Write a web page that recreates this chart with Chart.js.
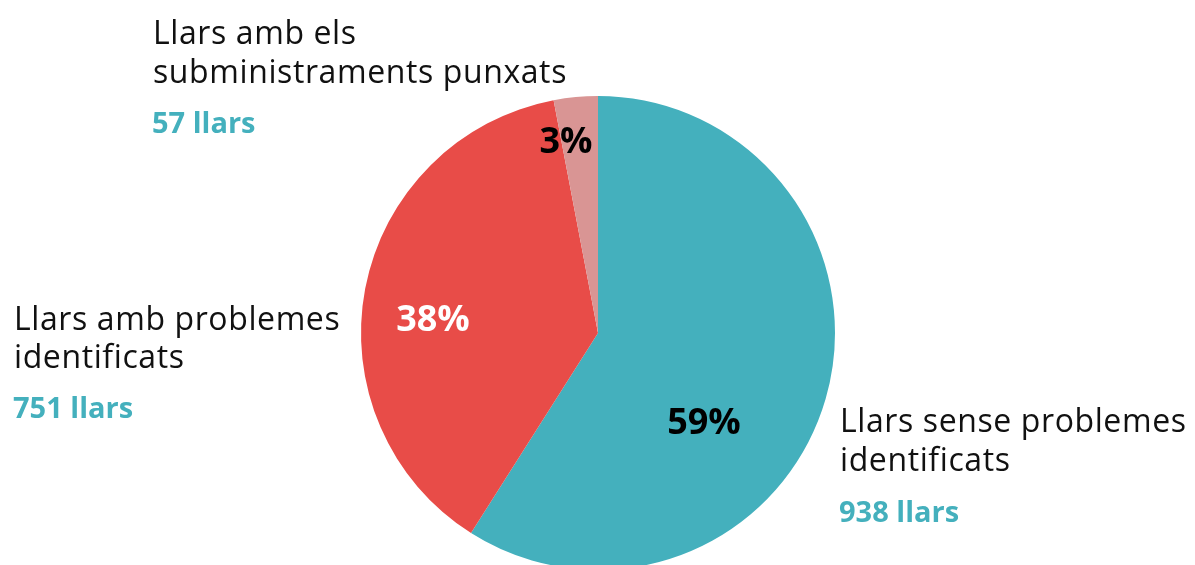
<!DOCTYPE html>
<html>
<head>
<meta charset="utf-8">
<script src="https://cdn.jsdelivr.net/npm/chart.js@4/dist/chart.umd.min.js"></script>
<style>
  html, body { margin: 0; padding: 0; background: #fff; overflow: hidden; width: 1195px; height: 565px; }
  #wrap { position: relative; width: 1195px; height: 580px; }
</style>
</head>
<body>
<div id="wrap"><canvas id="pie" width="1195" height="580"></canvas></div>
<script>
  // Households by supply situation (share in %, household count)
  const categories = [
    ["Llars sense problemes", "identificats"],
    ["Llars amb problemes", "identificats"],
    ["Llars amb els", "subministraments punxats"],
  ];
  const shares = [59, 38, 3];
  const households = [938, 751, 57];
  const colors = ["#44b0bd", "#e84c48", "#d99594"];
  const pctColors = ["#000", "#fff", "#000"];

  // outer label blocks: left x, baseline of each name line, baseline of the count
  const labelPos = [
    { x: 840, lines: [432, 471], count: 522 },
    { x: 14, lines: [330, 368], count: 418 },
    { x: 153, lines: [44, 83], count: 133 },
  ];
  const pctPos = [
    { x: 704, y: 424 },
    { x: 433, y: 321 },
    { x: 566, y: 143 },
  ];

  const labelsPlugin = {
    id: "pieLabels",
    afterDraw(chart) {
      const ctx = chart.ctx;
      ctx.save();
      ctx.textBaseline = "alphabetic";
      ctx.textAlign = "left";
      categories.forEach((lines, i) => {
        const p = labelPos[i];
        ctx.fillStyle = "#111";
        ctx.font = '32px "Open Sans"';
        ctx.letterSpacing = "0.6px";
        lines.forEach((line, j) => ctx.fillText(line, p.x, p.lines[j]));
        ctx.fillStyle = "#44b0bd";
        ctx.font = 'bold 29px "Open Sans"';
        ctx.letterSpacing = "0px";
        ctx.fillText(households[i] + " llars", p.x - 1, p.count);
      });
      ctx.textAlign = "center";
      ctx.textBaseline = "middle";
      ctx.font = 'bold 36px "Open Sans"';
      shares.forEach((v, i) => {
        ctx.fillStyle = pctColors[i];
        ctx.fillText(v + "%", pctPos[i].x, pctPos[i].y);
      });
      ctx.restore();
    },
  };

  new Chart(document.getElementById("pie"), {
    type: "pie",
    data: {
      labels: categories.map((c) => c.join(" ")),
      datasets: [{ data: shares, backgroundColor: colors, borderWidth: 0 }],
    },
    options: {
      responsive: false,
      animation: false,
      layout: { padding: { left: 361, right: 360, top: 96, bottom: 10 } },
      plugins: { legend: { display: false }, tooltip: { enabled: false } },
    },
    plugins: [labelsPlugin],
  });
</script>
</body>
</html>
